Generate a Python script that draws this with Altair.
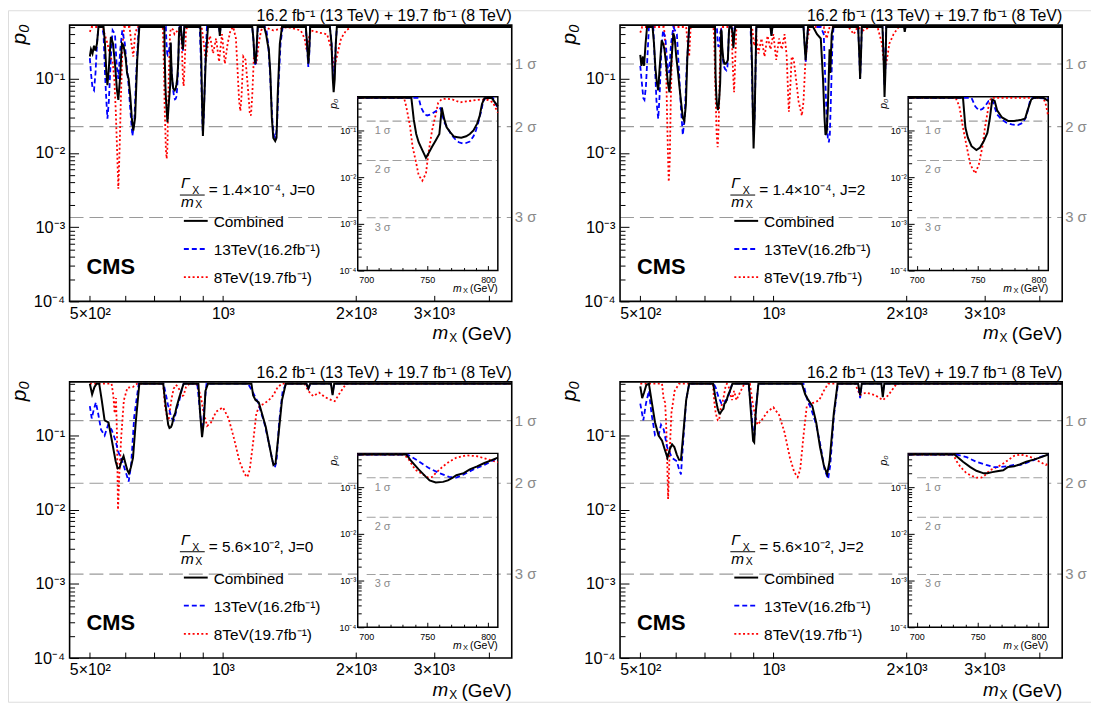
import altair as alt
import pandas as pd

# ---------------- values: (m_X [GeV], local p0) ----------------
TL_COMB = [(500,0.20),(503,0.25),(507,0.22),(511,0.28),(515,0.24),(519,0.30),(523,0.50),(537,0.50),(541,0.30),(545,0.12),(548,0.082),(552,0.14),(558,0.37),(564,0.30),(570,0.16),(576,0.07),(580,0.052),(585,0.10),(591,0.30),(596,0.28),(602,0.20),(607,0.12),(612,0.10),(617,0.06),(622,0.03),(627,0.020),(633,0.030),(640,0.18),(647,0.50),(693,0.50),(737,0.50),(739,0.17),(741,0.084),(743,0.056),(746,0.038),(749,0.026),(751,0.032),(754,0.045),(757,0.061),(760,0.084),(761,0.16),(762,0.31),(764,0.175),(766,0.117),(769,0.091),(772,0.074),(775,0.072),(778,0.070),(782,0.075),(785,0.084),(788,0.10),(791,0.14),(793,0.20),(795,0.37),(797,0.49),(803,0.50),(805,0.42),(808,0.33),(812,0.25),(818,0.50),(889,0.50),(893,0.20),(897,0.05),(901,0.017),(906,0.04),(915,0.20),(925,0.50),(980,0.50),(984,0.38),(988,0.50),(1165,0.50),(1172,0.35),(1178,0.20),(1184,0.16),(1190,0.22),(1198,0.50),(1240,0.50),(1252,0.40),(1262,0.30),(1270,0.25),(1280,0.12),(1290,0.03),(1300,0.016),(1313,0.0145),(1322,0.016),(1330,0.06),(1345,0.30),(1360,0.50),(1540,0.50),(1553,0.25),(1560,0.16),(1568,0.25),(1575,0.50),(1745,0.50),(1760,0.30),(1772,0.10),(1780,0.066),(1790,0.10),(1800,0.30),(1810,0.50),(4500,0.50)]
TL_13 = [(500,0.19),(503,0.12),(507,0.075),(511,0.07),(515,0.12),(519,0.30),(523,0.50),(533,0.50),(537,0.40),(541,0.12),(545,0.05),(548,0.029),(552,0.05),(558,0.20),(563,0.45),(570,0.40),(575,0.15),(580,0.10),(586,0.25),(592,0.45),(600,0.30),(606,0.15),(612,0.08),(617,0.04),(624,0.017),(630,0.025),(638,0.15),(645,0.50),(693,0.50),(743,0.50),(745,0.31),(748,0.22),(750,0.21),(753,0.22),(756,0.25),(759,0.28),(761,0.30),(764,0.15),(767,0.11),(770,0.08),(773,0.065),(776,0.056),(779,0.053),(782,0.054),(785,0.058),(788,0.075),(790,0.10),(792,0.15),(794,0.24),(796,0.42),(798,0.50),(804,0.50),(808,0.30),(812,0.24),(818,0.50),(886,0.50),(891,0.20),(896,0.05),(900,0.020),(905,0.03),(912,0.15),(920,0.50),(980,0.50),(984,0.40),(988,0.50),(1165,0.50),(1172,0.33),(1179,0.18),(1185,0.15),(1192,0.25),(1200,0.50),(1245,0.50),(1255,0.45),(1265,0.30),(1275,0.15),(1285,0.06),(1295,0.025),(1305,0.017),(1315,0.016),(1325,0.022),(1335,0.08),(1350,0.30),(1365,0.50),(1540,0.50),(1553,0.22),(1560,0.145),(1568,0.22),(1575,0.50),(1745,0.50),(1760,0.32),(1772,0.14),(1780,0.10),(1790,0.13),(1800,0.30),(1810,0.50),(4500,0.50)]
TL_8 = [(500,0.43),(505,0.50),(535,0.50),(540,0.40),(548,0.30),(556,0.20),(563,0.17),(568,0.10),(572,0.04),(576,0.012),(580,0.0033),(584,0.012),(588,0.06),(593,0.30),(598,0.50),(615,0.50),(620,0.32),(627,0.20),(633,0.40),(640,0.50),(693,0.50),(731,0.50),(733,0.31),(736,0.12),(738,0.045),(741,0.020),(743,0.011),(746,0.0084),(749,0.012),(751,0.032),(754,0.10),(757,0.22),(759,0.39),(762,0.47),(766,0.48),(771,0.46),(777,0.40),(782,0.42),(788,0.44),(794,0.46),(800,0.45),(804,0.40),(808,0.24),(812,0.10),(815,0.08),(819,0.15),(825,0.45),(830,0.50),(895,0.50),(905,0.30),(915,0.17),(925,0.30),(935,0.38),(950,0.22),(965,0.35),(980,0.17),(995,0.40),(1010,0.16),(1025,0.30),(1040,0.45),(1055,0.50),(1070,0.35),(1080,0.12),(1088,0.05),(1095,0.037),(1102,0.06),(1112,0.20),(1125,0.18),(1138,0.08),(1150,0.035),(1157,0.032),(1165,0.06),(1175,0.20),(1190,0.16),(1205,0.30),(1220,0.45),(1240,0.50),(1300,0.45),(1400,0.50),(1500,0.45),(1530,0.35),(1545,0.25),(1555,0.30),(1580,0.45),(1650,0.42),(1720,0.40),(1760,0.25),(1785,0.14),(1810,0.20),(1850,0.35),(1900,0.45),(1950,0.50),(4500,0.50)]

TR_COMB = [(500,0.21),(503,0.15),(507,0.20),(510,0.15),(514,0.30),(518,0.50),(533,0.50),(537,0.30),(541,0.14),(545,0.09),(549,0.07),(553,0.14),(559,0.33),(563,0.30),(567,0.25),(572,0.16),(577,0.09),(582,0.066),(587,0.15),(594,0.41),(598,0.36),(603,0.20),(608,0.13),(613,0.08),(618,0.05),(624,0.030),(629,0.027),(634,0.045),(639,0.20),(645,0.50),(693,0.50),(738,0.50),(740,0.114),(742,0.07),(745,0.046),(749,0.038),(752,0.043),(755,0.059),(758,0.089),(760,0.18),(762,0.46),(764,0.43),(766,0.27),(770,0.19),(775,0.16),(780,0.16),(786,0.17),(789,0.18),(791,0.27),(794,0.46),(796,0.50),(804,0.50),(808,0.43),(812,0.26),(816,0.40),(820,0.50),(890,0.50),(895,0.15),(899,0.03),(902,0.0115),(907,0.03),(915,0.50),(985,0.50),(990,0.38),(995,0.50),(1170,0.50),(1176,0.30),(1183,0.18),(1190,0.30),(1198,0.50),(1230,0.50),(1255,0.40),(1280,0.35),(1295,0.10),(1305,0.03),(1312,0.0175),(1320,0.019),(1328,0.04),(1335,0.12),(1340,0.25),(1345,0.12),(1355,0.40),(1365,0.50),(1555,0.50),(1565,0.20),(1571,0.10),(1578,0.20),(1585,0.50),(1765,0.50),(1775,0.20),(1784,0.057),(1792,0.12),(1800,0.50),(1975,0.50),(1982,0.43),(1990,0.50),(4500,0.50)]
TR_13 = [(500,0.15),(504,0.09),(508,0.055),(511,0.052),(515,0.08),(519,0.20),(523,0.50),(535,0.50),(540,0.14),(544,0.05),(549,0.029),(553,0.06),(558,0.25),(563,0.45),(570,0.35),(576,0.15),(581,0.12),(587,0.30),(594,0.50),(605,0.40),(612,0.12),(618,0.04),(624,0.0175),(630,0.03),(637,0.15),(645,0.50),(693,0.50),(745,0.50),(748,0.33),(751,0.27),(754,0.29),(756,0.33),(759,0.43),(762,0.45),(766,0.22),(770,0.17),(774,0.145),(778,0.135),(783,0.13),(787,0.145),(790,0.20),(793,0.43),(795,0.50),(808,0.48),(812,0.30),(818,0.50),(888,0.50),(894,0.15),(899,0.03),(903,0.0175),(908,0.04),(915,0.50),(985,0.50),(990,0.40),(995,0.50),(1170,0.50),(1177,0.30),(1184,0.17),(1190,0.30),(1198,0.50),(1280,0.50),(1300,0.40),(1310,0.10),(1320,0.03),(1328,0.016),(1335,0.0139),(1342,0.018),(1350,0.06),(1360,0.30),(1368,0.50),(1555,0.50),(1565,0.20),(1571,0.10),(1578,0.20),(1585,0.50),(1765,0.50),(1775,0.25),(1784,0.08),(1792,0.14),(1800,0.50),(1975,0.50),(1982,0.45),(1990,0.50),(4500,0.50)]
TR_8 = [(500,0.42),(505,0.50),(565,0.50),(568,0.40),(572,0.15),(575,0.03),(578,0.008),(580,0.0041),(583,0.008),(586,0.05),(590,0.25),(595,0.50),(635,0.50),(640,0.30),(645,0.20),(650,0.50),(693,0.50),(732,0.50),(735,0.33),(738,0.114),(741,0.046),(744,0.0187),(748,0.012),(751,0.0187),(754,0.046),(756,0.114),(759,0.33),(761,0.50),(804,0.50),(806,0.36),(808,0.20),(812,0.10),(815,0.066),(819,0.15),(825,0.50),(895,0.50),(905,0.28),(915,0.38),(925,0.22),(940,0.35),(955,0.20),(970,0.38),(985,0.25),(1000,0.40),(1015,0.18),(1030,0.35),(1045,0.25),(1060,0.40),(1072,0.20),(1080,0.06),(1084,0.036),(1090,0.06),(1100,0.20),(1112,0.18),(1125,0.10),(1140,0.05),(1160,0.032),(1170,0.05),(1180,0.15),(1195,0.35),(1210,0.50),(1300,0.50),(1320,0.35),(1340,0.50),(1480,0.50),(1520,0.40),(1550,0.50),(1600,0.45),(1650,0.50),(1720,0.50),(1760,0.30),(1780,0.15),(1800,0.16),(1830,0.30),(1870,0.40),(1920,0.50),(4500,0.50)]

BL_COMB = [(500,0.50),(506,0.36),(512,0.45),(518,0.50),(525,0.50),(532,0.30),(540,0.16),(551,0.15),(560,0.09),(566,0.063),(572,0.045),(578,0.036),(584,0.037),(590,0.046),(596,0.053),(602,0.042),(608,0.034),(613,0.031),(619,0.037),(626,0.05),(635,0.15),(647,0.50),(693,0.50),(733,0.50),(737,0.36),(743,0.24),(749,0.166),(752,0.14),(757,0.126),(763,0.13),(767,0.14),(771,0.16),(774,0.18),(780,0.20),(785,0.24),(791,0.28),(797,0.33),(802,0.37),(808,0.43),(815,0.50),(880,0.50),(888,0.20),(897,0.095),(905,0.15),(913,0.40),(925,0.50),(1160,0.50),(1170,0.35),(1185,0.30),(1205,0.28),(1225,0.20),(1250,0.13),(1270,0.08),(1290,0.05),(1301,0.04),(1315,0.042),(1335,0.10),(1360,0.30),(1387,0.50),(1545,0.50),(1560,0.43),(1575,0.50),(1755,0.50),(1770,0.35),(1785,0.50),(4500,0.50)]
BL_13 = [(500,0.25),(505,0.17),(510,0.22),(516,0.28),(522,0.20),(530,0.12),(540,0.10),(550,0.14),(560,0.12),(570,0.09),(580,0.06),(592,0.045),(605,0.03),(612,0.024),(620,0.04),(630,0.18),(645,0.50),(693,0.50),(734,0.50),(743,0.36),(751,0.26),(760,0.20),(768,0.166),(774,0.16),(780,0.187),(788,0.24),(797,0.30),(802,0.35),(808,0.43),(815,0.50),(875,0.50),(885,0.25),(895,0.13),(900,0.12),(908,0.25),(918,0.50),(1140,0.50),(1170,0.38),(1200,0.28),(1240,0.15),(1270,0.08),(1295,0.045),(1310,0.037),(1322,0.045),(1340,0.15),(1365,0.40),(1390,0.50),(1545,0.50),(1560,0.42),(1575,0.50),(1755,0.50),(1770,0.37),(1785,0.50),(4500,0.50)]
BL_8 = [(500,0.50),(560,0.50),(565,0.35),(569,0.20),(573,0.32),(576,0.10),(579,0.010),(583,0.03),(589,0.10),(597,0.30),(608,0.44),(625,0.45),(640,0.50),(693,0.50),(730,0.50),(734,0.43),(740,0.24),(746,0.19),(751,0.16),(754,0.165),(757,0.20),(763,0.28),(768,0.35),(774,0.43),(782,0.48),(791,0.46),(799,0.40),(808,0.34),(815,0.35),(825,0.45),(840,0.50),(870,0.50),(890,0.35),(905,0.20),(921,0.135),(940,0.15),(965,0.21),(1000,0.24),(1030,0.17),(1060,0.09),(1090,0.045),(1120,0.03),(1136,0.0275),(1150,0.035),(1170,0.08),(1190,0.20),(1210,0.25),(1240,0.27),(1270,0.30),(1300,0.35),(1330,0.45),(1360,0.50),(1530,0.50),(1560,0.40),(1600,0.34),(1650,0.38),(1700,0.33),(1760,0.30),(1790,0.29),(1830,0.36),(1900,0.50),(4500,0.50)]

BR_COMB = [(500,0.46),(505,0.32),(510,0.38),(516,0.48),(523,0.50),(530,0.30),(540,0.15),(550,0.10),(560,0.085),(568,0.065),(576,0.050),(583,0.065),(590,0.076),(597,0.07),(605,0.055),(612,0.047),(618,0.047),(625,0.10),(635,0.30),(645,0.50),(693,0.50),(731,0.50),(738,0.35),(744,0.27),(749,0.225),(755,0.198),(758,0.198),(762,0.21),(766,0.22),(771,0.23),(775,0.27),(780,0.28),(785,0.31),(790,0.35),(796,0.39),(801,0.43),(808,0.50),(880,0.50),(890,0.20),(900,0.085),(905,0.081),(912,0.20),(925,0.50),(1160,0.50),(1180,0.36),(1200,0.30),(1225,0.25),(1250,0.15),(1275,0.07),(1300,0.04),(1323,0.030),(1340,0.045),(1370,0.20),(1397,0.50),(1555,0.50),(1571,0.35),(1585,0.50),(1755,0.50),(1768,0.33),(1782,0.50),(4500,0.50)]
BR_13 = [(500,0.27),(508,0.16),(515,0.27),(523,0.40),(530,0.20),(540,0.10),(550,0.10),(557,0.14),(565,0.12),(575,0.07),(590,0.05),(605,0.045),(612,0.035),(618,0.030),(625,0.08),(635,0.30),(645,0.50),(693,0.50),(733,0.50),(741,0.44),(749,0.35),(757,0.30),(763,0.27),(768,0.27),(774,0.28),(780,0.30),(785,0.30),(790,0.33),(796,0.38),(801,0.44),(808,0.50),(878,0.50),(890,0.25),(900,0.11),(906,0.10),(914,0.25),(925,0.50),(1170,0.50),(1190,0.32),(1220,0.22),(1250,0.14),(1280,0.07),(1305,0.035),(1330,0.026),(1345,0.04),(1370,0.18),(1400,0.50),(1555,0.50),(1571,0.32),(1585,0.50),(1755,0.50),(1768,0.38),(1782,0.50),(4500,0.50)]
BR_8 = [(500,0.50),(560,0.50),(565,0.30),(569,0.28),(572,0.15),(575,0.05),(578,0.014),(582,0.05),(588,0.20),(598,0.40),(612,0.50),(693,0.50),(730,0.50),(733,0.35),(736,0.27),(740,0.21),(744,0.18),(749,0.16),(753,0.16),(756,0.18),(760,0.23),(766,0.27),(771,0.32),(775,0.38),(780,0.47),(785,0.50),(790,0.47),(796,0.42),(801,0.35),(806,0.30),(808,0.32),(815,0.40),(825,0.30),(840,0.38),(860,0.50),(885,0.50),(900,0.25),(920,0.14),(940,0.16),(970,0.21),(1000,0.24),(1030,0.19),(1060,0.11),(1090,0.05),(1115,0.032),(1135,0.0275),(1150,0.035),(1170,0.10),(1190,0.25),(1210,0.27),(1240,0.28),(1270,0.30),(1300,0.40),(1330,0.50),(1530,0.50),(1555,0.40),(1571,0.35),(1620,0.38),(1700,0.35),(1768,0.30),(1820,0.35),(1900,0.50),(4500,0.50)]

PANEL_SERIES = [(TL_COMB, TL_13, TL_8), (TR_COMB, TR_13, TR_8), (BL_COMB, BL_13, BL_8), (BR_COMB, BR_13, BR_8)]
PANEL_RATIO = ["= 1.4×10⁻⁴, J=0", "= 1.4×10⁻⁴, J=2", "= 5.6×10⁻², J=0", "= 5.6×10⁻², J=2"]
SIGMA_P = [0.1587, 0.02275, 0.00135]
SIGMA_LABELS = ["1 σ", "2 σ", "3 σ"]
LEGEND_LABELS = ["Combined", "13TeV(16.2fb⁻¹)", "8TeV(19.7fb⁻¹)"]
LUMI_TEXT = "16.2 fb⁻¹ (13 TeV) + 19.7 fb⁻¹ (8 TeV)"
X_TICKS = [500, 600, 700, 800, 900, 1000, 2000, 3000, 4000]
X_LABEL_VALUES = [500, 1000, 2000, 3000]
X_LABEL_TEXTS = ["5×10²", "10³", "2×10³", "3×10³"]
Y_DECADES = [0.0001, 0.001, 0.01, 0.1]
Y_DECADE_TEXTS = ["10⁻⁴", "10⁻³", "10⁻²", "10⁻¹"]
INSET_X_TICKS = [700, 710, 720, 730, 740, 750, 760, 770, 780, 790, 800]
INSET_X_LABELS = [700, 750, 800]

# ---------------- layout / style ----------------
FONT = "Liberation Sans"
W, H = 1090, 696
PW, PH = 445, 278
XDOM = [450, 4500]
YDOM = [1e-4, 0.53]
IXDOM = [693, 808]
IL, IR, IT, IB = 290, 431, 72, 247
ORIGINS = [(62, 15), (616, 15), (62, 374), (616, 374)]
LINE_STYLES = {
    "comb": dict(color="#000000", strokeWidth=2.0),
    "13": dict(color="#0000ff", strokeWidth=1.8, strokeDash=[5, 3]),
    "8": dict(color="#ff0000", strokeWidth=1.8, strokeDash=[2, 2.4]),
}

Y_TICKS = [k * d for d in Y_DECADES for k in range(1, 10) if k * d <= 0.5]


def label_expr(values, texts):
    e = "''"
    for v, t in zip(values, texts):
        e = f"datum.value == {v} ? '{t}' : ({e})"
    return e


XLAB = label_expr(X_LABEL_VALUES, X_LABEL_TEXTS)
YLAB = label_expr(Y_DECADES, Y_DECADE_TEXTS)
Y_TICK_EXPR = f"indexof({Y_DECADES}, datum.value) >= 0 ? -9 : -5"
IY_TICK_EXPR = f"indexof({Y_DECADES}, datum.value) >= 0 ? -6 : -3.5"
IXLAB = label_expr(INSET_X_LABELS, [str(v) for v in INSET_X_LABELS])
IX_TICK_EXPR = "datum.value % 50 == 0 ? -5 : -3"


def axis(orient, offset, values, lab, tick_expr, pad, size, **kw):
    return alt.Axis(orient=orient, offset=offset, values=values, labelExpr=lab,
                    tickSize={"expr": tick_expr}, labelPadding=pad, labelFontSize=size,
                    labelFont=FONT, labelColor="black", labelFlush=False, labelOverlap=False,
                    labelBound=False, domain=False, grid=False, tickColor="black", tickWidth=1,
                    title=None, zindex=2, **kw)


def one(text):
    return pd.DataFrame({"t": [text]})


def text_at(x, y, text, size, **kw):
    return alt.Chart(one(text)).mark_text(font=FONT, fontSize=size, **kw).encode(
        x=alt.value(x), y=alt.value(y), text="t:N")


def rule_at(x, x2, y, **kw):
    return alt.Chart(one("")).mark_rule(**kw).encode(
        x=alt.value(x), x2=alt.value(x2), y=alt.value(y))


def curve(pairs, style, xs, ys, xaxis=None, yaxis=None, inset=False):
    df = pd.DataFrame({"m": [a for a, _ in pairs], "p": [b for _, b in pairs]})
    ch = alt.Chart(df).mark_line(**LINE_STYLES[style])
    if inset:
        ch = ch.transform_filter(f"datum.m >= {IXDOM[0]} && datum.m <= {IXDOM[1]}")
    return ch.encode(x=alt.X("m:Q", scale=xs, axis=xaxis), y=alt.Y("p:Q", scale=ys, axis=yaxis))


def panel(idx):
    x0, y0 = ORIGINS[idx]
    comb, n13, n8 = PANEL_SERIES[idx]
    xs = alt.Scale(type="log", domain=XDOM, range=[x0, x0 + PW], nice=False)
    ys = alt.Scale(type="log", domain=YDOM, range=[y0 + PH, y0], nice=False)
    xi = alt.Scale(type="linear", domain=IXDOM, range=[x0 + IL, x0 + IR], nice=False, zero=False)
    yi = alt.Scale(type="log", domain=YDOM, range=[y0 + IB, y0 + IT], nice=False)

    xa = axis("bottom", y0 + PH - H, X_TICKS, XLAB, "-6", 10, 16)
    ya = axis("left", -x0, Y_TICKS, YLAB, Y_TICK_EXPR, 14, 16.5, labelBaseline="middle", labelAlign="right")
    ixa = axis("bottom", y0 + IB - H, INSET_X_TICKS, IXLAB, IX_TICK_EXPR, 10, 9)
    iya = axis("left", -(x0 + IL), Y_TICKS, YLAB, IY_TICK_EXPR, 8, 9, labelBaseline="middle", labelAlign="right")

    sig = pd.DataFrame({"p": SIGMA_P, "lab": SIGMA_LABELS})
    L = []
    # sigma reference lines (main)
    L.append(alt.Chart(sig).mark_rule(color="#9a9a9a", strokeWidth=1.2, strokeDash=[14, 6]).encode(
        x=alt.value(x0), x2=alt.value(x0 + PW), y=alt.Y("p:Q", scale=ys, axis=None)))
    L.append(alt.Chart(sig).mark_text(font=FONT, fontSize=15, color="#8a8a8a", align="left", baseline="middle").encode(
        x=alt.value(x0 + PW + 3), y=alt.Y("p:Q", scale=ys, axis=None), text="lab:N"))
    # curves (main)
    L.append(curve(n8, "8", xs, ys))
    L.append(curve(n13, "13", xs, ys))
    L.append(curve(comb, "comb", xs, ys, xa, ya))
    # frame
    L.append(alt.Chart(one("")).mark_rect(fillOpacity=0, stroke="black", strokeWidth=1.6).encode(
        x=alt.value(x0), x2=alt.value(x0 + PW), y=alt.value(y0), y2=alt.value(y0 + PH)))
    # titles
    L.append(text_at(x0 + PW, y0 - 4, LUMI_TEXT, 16, align="right", baseline="alphabetic"))
    L.append(text_at(x0 - 50, y0 - 1, "p₀", 21, angle=270, align="right", baseline="middle", fontStyle="italic"))
    L.append(text_at(x0 + PW, y0 + PH + 33, "(GeV)", 19, align="right", baseline="middle"))
    L.append(text_at(x0 + PW - 55, y0 + PH + 37, "X", 12, align="right", baseline="middle"))
    L.append(text_at(x0 + PW - 64, y0 + PH + 32, "m", 19, align="right", baseline="middle", fontStyle="italic"))
    # legend
    L.append(text_at(x0 + 112, y0 + 159, "Γ", 15.5, align="left", baseline="middle", fontStyle="italic"))
    L.append(text_at(x0 + 123.5, y0 + 167, "X", 10.5, align="left", baseline="middle"))
    L.append(rule_at(x0 + 111, x0 + 136, y0 + 171, color="black", strokeWidth=1))
    L.append(text_at(x0 + 112, y0 + 178, "m", 15.5, align="left", baseline="middle", fontStyle="italic"))
    L.append(text_at(x0 + 126.5, y0 + 181, "X", 10.5, align="left", baseline="middle"))
    L.append(text_at(x0 + 140, y0 + 166, PANEL_RATIO[idx], 15.5, align="left", baseline="middle"))
    for k, (style, lab) in enumerate(zip(["comb", "13", "8"], LEGEND_LABELS)):
        yy = y0 + 197 + k * 28.3
        L.append(rule_at(x0 + 115, x0 + 139, yy, **LINE_STYLES[style]))
        L.append(text_at(x0 + 145, yy + 1, lab, 15.5, align="left", baseline="middle"))
    L.append(text_at(x0 + 17, y0 + 243, "CMS", 22, align="left", baseline="middle", fontWeight="bold"))

    # ---- inset ----
    L.append(alt.Chart(one("")).mark_rect(fill="white", stroke="black", strokeWidth=1.5).encode(
        x=alt.value(x0 + IL), x2=alt.value(x0 + IR), y=alt.value(y0 + IT), y2=alt.value(y0 + IB)))
    L.append(alt.Chart(sig).mark_rule(color="#a0a0a0", strokeWidth=1.1, strokeDash=[9, 4]).encode(
        x=alt.value(x0 + IL + 9), x2=alt.value(x0 + IR - 1), y=alt.Y("p:Q", scale=yi, axis=None)))
    L.append(alt.Chart(sig).mark_text(font=FONT, fontSize=11, color="#8a8a8a", align="left", baseline="middle", dy=10).encode(
        x=alt.value(x0 + IL + 17), y=alt.Y("p:Q", scale=yi, axis=None), text="lab:N"))
    L.append(curve(n8, "8", xi, yi, inset=True))
    L.append(curve(n13, "13", xi, yi, inset=True))
    L.append(curve(comb, "comb", xi, yi, ixa, iya, inset=True))
    L.append(text_at(x0 + IL - 24, y0 + IT + 2, "p₀", 10.5, angle=270, align="right", baseline="middle", fontStyle="italic"))
    L.append(text_at(x0 + IR, y0 + IB + 19, "(GeV)", 10.5, align="right", baseline="middle"))
    L.append(text_at(x0 + IR - 30, y0 + IB + 21, "X", 7.5, align="right", baseline="middle"))
    L.append(text_at(x0 + IR - 36.5, y0 + IB + 18.5, "m", 10.5, align="right", baseline="middle", fontStyle="italic"))
    return L


layers = []
for i in range(4):
    layers.extend(panel(i))

chart = alt.layer(*layers).resolve_scale(x="independent", y="independent").properties(
    width=W, height=H, autosize=alt.AutoSizeParams(type="none"), padding=0
).configure_view(strokeWidth=0).configure(font=FONT)

chart.save("out.html", embed_options={"renderer": "svg", "actions": False})
